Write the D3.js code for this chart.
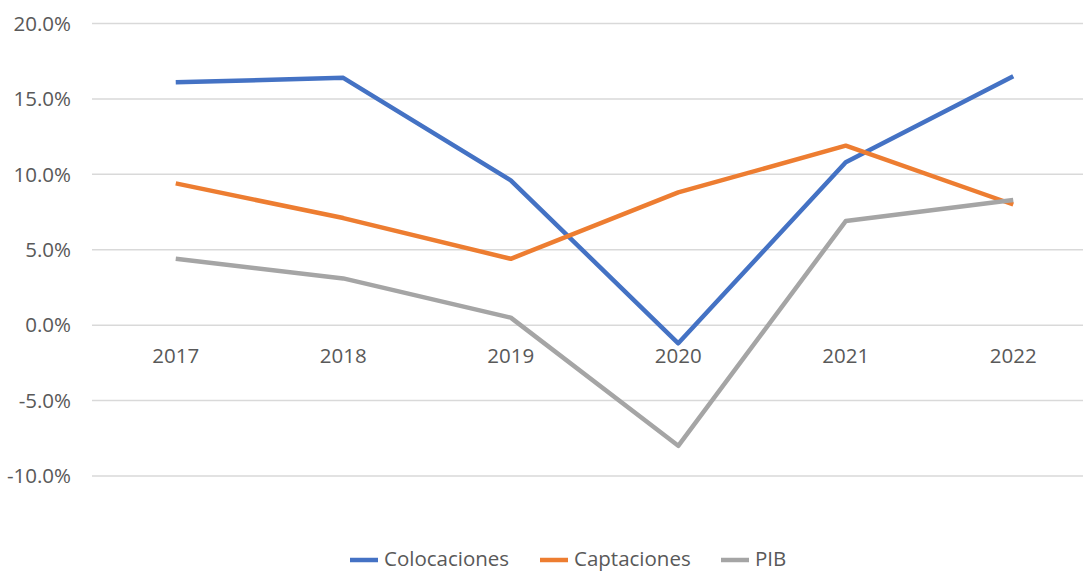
<!DOCTYPE html>
<html>
<head>
<meta charset="utf-8">
<script src="https://cdn.jsdelivr.net/npm/d3@7"></script>
<style>
html,body{margin:0;padding:0;background:#fff;overflow:hidden;}
svg{display:block;}
text{font-family:"Open Sans",sans-serif;fill:#595959;}
</style>
</head>
<body>
<svg id="chart" width="1083" height="572"></svg>
<script>
const categories = ["2017","2018","2019","2020","2021","2022"];
const colocaciones = [16.1, 16.4, 9.6, -1.2, 10.8, 16.5];
const captaciones = [9.4, 7.1, 4.4, 8.8, 11.9, 8.0];
const pib = [4.4, 3.1, 0.5, -8.0, 6.9, 8.3];
const yTicks = [-10, -5, 0, 5, 10, 15, 20];
const seriesNames = ["Colocaciones", "Captaciones", "PIB"];
const seriesColors = ["#4472C4", "#ED7D31", "#A5A5A5"];

const series = [colocaciones, captaciones, pib];
const svg = d3.select("#chart");
const FS = 20.5;

const x = d3.scaleBand().domain(categories).range([92, 1097]);
const y = d3.scaleLinear().domain([-10, 20]).range([476, 23.5]);

// gridlines
svg.append("g").selectAll("line").data(yTicks).join("line")
  .attr("x1", 92).attr("x2", 1097)
  .attr("y1", d => y(d)).attr("y2", d => y(d))
  .attr("stroke", "#D9D9D9").attr("stroke-width", 1.5);

// y labels
const fmt = d3.format(".1f");
svg.append("g").selectAll("text").data(yTicks).join("text")
  .attr("x", 71).attr("y", d => y(d)).attr("dy", "0.35em")
  .attr("text-anchor", "end").attr("font-size", FS)
  .text(d => fmt(d).replace("\u2212", "-") + "%");

// x labels at 0 line
svg.append("g").selectAll("text").data(categories).join("text")
  .attr("x", d => x(d) + x.bandwidth() / 2).attr("y", y(0) + 38)
  .attr("text-anchor", "middle").attr("font-size", FS)
  .text(d => d);

const line = d3.line()
  .x((d, i) => x(categories[i]) + x.bandwidth() / 2)
  .y(d => y(d));

series.forEach((s, k) => {
  svg.append("path").datum(s)
    .attr("d", line)
    .attr("fill", "none")
    .attr("stroke", seriesColors[k])
    .attr("stroke-width", 4.5)
    .attr("stroke-linejoin", "round");
});

// legend
const legendX = [350, 540, 721];
const leg = svg.append("g");
seriesNames.forEach((n, k) => {
  leg.append("line")
    .attr("x1", legendX[k]).attr("x2", legendX[k] + 28)
    .attr("y1", 560).attr("y2", 560)
    .attr("stroke", seriesColors[k]).attr("stroke-width", 4.5);
  leg.append("text")
    .attr("x", legendX[k] + 34).attr("y", 566)
    .attr("font-size", FS)
    .text(n);
});
</script>
</body>
</html>
